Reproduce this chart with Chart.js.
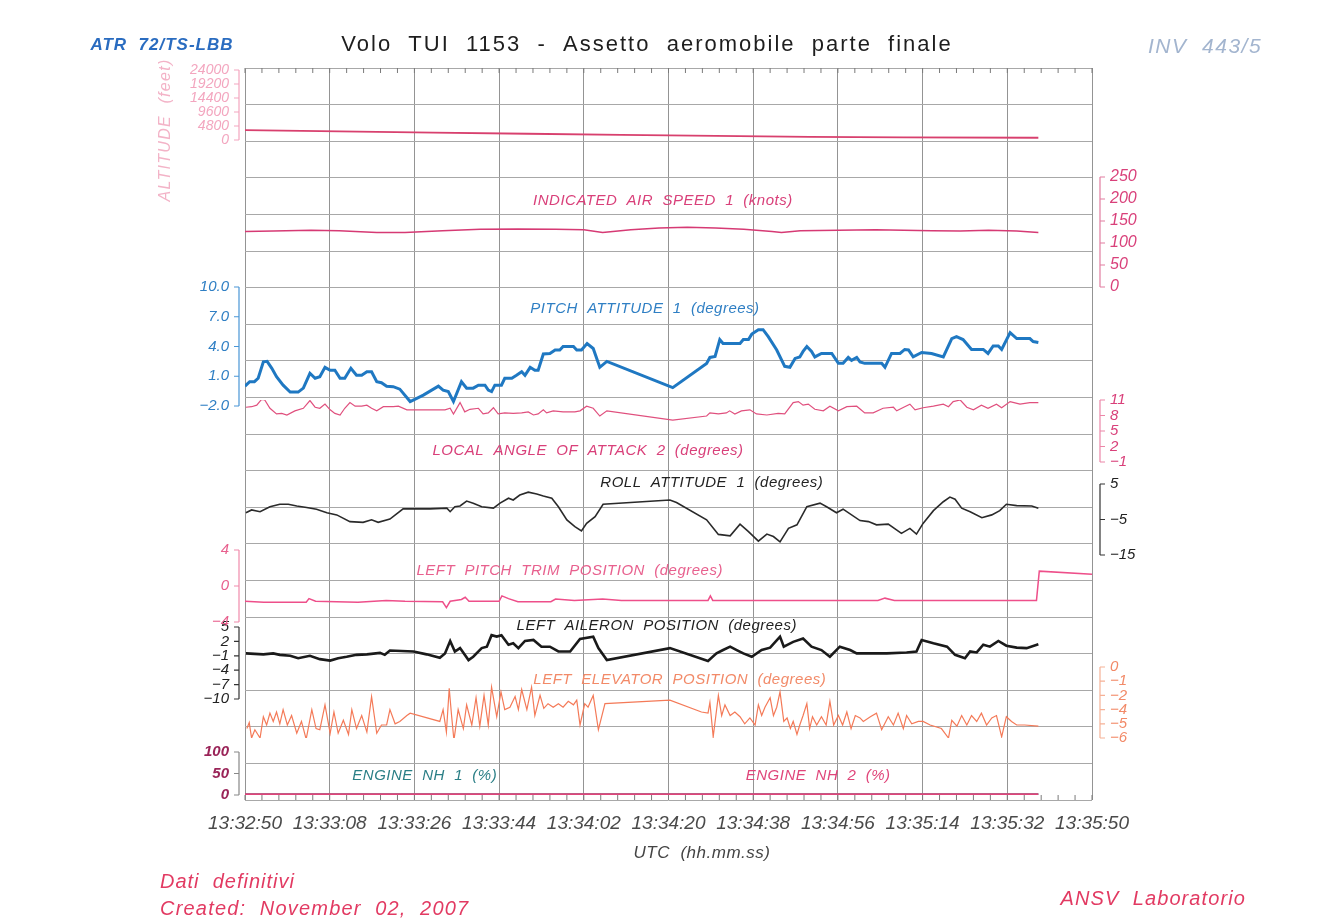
<!DOCTYPE html>
<html>
<head>
<meta charset="utf-8">
<script src="https://cdn.jsdelivr.net/npm/chart.js@4.4.1/dist/chart.umd.min.js"></script>
<style>
  html, body { margin: 0; padding: 0; background: #fff; }
  #wrap { width: 1322px; height: 919px; }
</style>
</head>
<body>
<div id="wrap"><canvas id="chart" width="1322" height="919"></canvas></div>
<script>
// time is in seconds after 13:32:50 UTC
const timeTicks = [0, 18, 36, 54, 72, 90, 108, 126, 144, 162, 180];
const timeLabels = ["13:32:50", "13:33:08", "13:33:26", "13:33:44", "13:34:02", "13:34:20",
  "13:34:38", "13:34:56", "13:35:14", "13:35:32", "13:35:50"];

const altTicks = [0, 4800, 9600, 14400, 19200, 24000];
const iasTicks = [0, 50, 100, 150, 200, 250];
const pitchTicks = [-2, 1, 4, 7, 10];
const aoaTicks = [-1, 2, 5, 8, 11];
const rollTicks = [-15, -5, 5];
const trimTicks = [-4, 0, 4];
const aileronTicks = [-10, -7, -4, -1, 2, 5];
const elevatorTicks = [-6, -4.8, -3.6, -2.4, -1.2, 0];
const engineTicks = [0, 50, 100];

// [seconds, value]
const altitudeFt = [[0, 3400], [20, 2950], [40, 2550], [60, 2150], [80, 1750], [100, 1400],
  [120, 1100], [140, 900], [168.6, 780]];

const airspeedKt = [[0, 126], [6, 127], [14, 129], [20, 128], [28, 124], [34, 124], [42, 128],
  [50, 131], [58, 132], [66, 131], [72, 130], [76, 124], [82, 130], [88, 134], [94, 136],
  [100, 134], [106, 131], [112, 126], [114, 124], [118, 128], [126, 129], [134, 130],
  [140, 129], [146, 128], [152, 127], [158, 129], [164, 127], [168.6, 124]];

const pitchDeg = [[0, 0.0], [1, 0.45], [2, 0.45], [2.8, 0.8], [3.9, 2.45], [4.7, 2.5], [5.7, 1.8],
  [6.7, 0.95], [8.1, 0.1], [9.6, -0.6], [11.3, -0.6], [12.4, -0.2], [13.8, 1.3], [14.9, 0.8],
  [15.9, 0.95], [17, 1.9], [18.1, 1.6], [19.1, 1.6], [20.2, 0.8], [21.2, 0.8], [22.5, 1.8],
  [23.7, 1.1], [24.8, 1.1], [25.9, 1.45], [26.9, 1.45], [28, 0.45], [29, 0.35], [30.1, 0.0],
  [31.5, -0.05], [32.9, -0.3], [35.1, -1.55], [37.9, -0.9], [41.1, 0.0], [42.1, -0.4],
  [43.2, -0.55], [44.3, -1.55], [46, 0.45], [47.1, -0.2], [48.5, -0.2], [49.6, 0.1], [51, 0.1],
  [51.7, -0.4], [52.4, -0.55], [53.1, 0.1], [54.5, 0.1], [55.2, 0.8], [56.7, 0.8], [57.7, 1.1],
  [58.8, 1.45], [59.5, 1.1], [60.6, 1.9], [61.6, 1.6], [62.3, 1.6], [63.4, 3.25], [64.8, 3.3],
  [65.9, 3.65], [66.9, 3.65], [67.6, 4.0], [69.8, 4.0], [70.5, 3.65], [71.5, 3.65], [72.7, 4.3],
  [74, 3.8], [75.4, 1.9], [76.9, 2.5], [90.9, -0.15], [98.1, 2.3], [98.8, 2.9], [99.9, 3.0],
  [100.9, 4.7], [101.6, 4.3], [105.2, 4.3], [105.9, 4.7], [107, 4.7], [107.7, 5.25], [109.1, 5.7],
  [110.1, 5.7], [111.2, 5.0], [113, 3.65], [114.7, 2.0], [115.8, 1.9], [116.9, 2.8], [117.9, 2.95],
  [118.6, 3.5], [119.4, 4.0], [120.4, 3.5], [121.1, 2.95], [122.5, 3.3], [124.7, 3.3], [126.1, 2.3],
  [127.1, 2.3], [128.2, 2.9], [128.9, 2.6], [130, 2.9], [130.7, 2.45], [131.7, 2.3], [135.3, 2.3],
  [136, 1.9], [137.4, 3.3], [139.2, 3.3], [140.2, 3.7], [141, 3.65], [142, 2.95], [143.8, 3.4],
  [145.9, 3.3], [148.4, 2.95], [150.2, 4.8], [151.2, 5.0], [152.6, 4.7], [154.4, 3.7], [156.9, 3.7],
  [157.9, 3.3], [159, 4.05], [160.1, 4.05], [160.8, 3.7], [162.6, 5.4], [164, 4.8], [166.8, 4.8],
  [167.5, 4.5], [168.6, 4.4]];

const aoaDeg = [[0.2, 9.6], [1.4, 9.7], [2.5, 10.0], [3.5, 11.1], [4.2, 11.0], [5.3, 9.4], [6.7, 8.3],
  [7.8, 8.4], [8.9, 8.1], [10.6, 8.9], [12.4, 9.4], [13.8, 10.9], [14.9, 9.6], [15.9, 9.4], [17, 10.2],
  [18.1, 9.1], [19.1, 8.4], [20.2, 8.1], [21.2, 9.4], [22.3, 10.5], [23.4, 9.8], [24.8, 9.8],
  [25.9, 10.0], [26.9, 9.4], [28, 8.9], [29.4, 9.7], [31.5, 9.7], [32.6, 9.8], [34.4, 9.1],
  [37.9, 9.1], [42.5, 9.1], [43.6, 9.4], [44.3, 8.3], [45.7, 10.5], [46.7, 8.7], [47.8, 9.2],
  [49.6, 9.4], [50.6, 8.3], [51.7, 8.5], [52.8, 9.5], [53.8, 8.3], [55.2, 8.5], [57, 8.4],
  [58.8, 8.5], [60.2, 8.7], [61.3, 8.1], [62.3, 8.3], [63.4, 9.1], [64.1, 8.5], [65.5, 8.9],
  [67.6, 8.7], [70.1, 8.7], [71.2, 8.9], [72.6, 9.8], [74, 9.4], [75.4, 7.9], [76.9, 8.9],
  [90.9, 7.1], [98.1, 7.9], [98.8, 8.5], [100.6, 8.3], [102.3, 8.5], [103, 8.9], [104.1, 8.3],
  [105.5, 8.9], [107.3, 9.1], [108.7, 8.3], [110.9, 8.1], [113.3, 8.4], [114.7, 8.3], [116.5, 10.5],
  [117.6, 10.7], [118.6, 10.0], [119.7, 10.2], [121.1, 9.2], [122.9, 8.9], [124.3, 9.8], [126.1, 8.9],
  [127.9, 9.7], [130, 9.8], [131.7, 8.5], [133.5, 8.5], [135.6, 9.4], [137.8, 9.6], [138.5, 8.9],
  [140.2, 9.7], [141.3, 10.2], [142.4, 9.1], [144.1, 9.5], [146.3, 9.8], [148.4, 10.2], [149.5, 9.7],
  [150.5, 10.7], [152, 11.0], [153.4, 9.6], [154.8, 9.1], [156.5, 10.0], [157.9, 9.4], [159.7, 10.2],
  [160.8, 9.5], [162.6, 10.7], [164.7, 10.2], [166.8, 10.5], [168.6, 10.5]];

const rollDeg = [[0.2, -3.1], [1.4, -2.3], [3.2, -2.8], [5.3, -1.4], [7.4, -0.7], [9.2, -0.7],
  [11, -1.2], [13.1, -1.6], [15.2, -2.1], [17.4, -3.1], [19.5, -3.7], [22.3, -5.6], [25.1, -5.8],
  [26.9, -5.1], [28.3, -5.8], [30.8, -4.9], [33.6, -2.0], [39.3, -2.0], [42.9, -1.8], [43.6, -2.8],
  [44.6, -1.4], [45.7, -1.2], [47.1, 0.2], [48.5, -0.4], [50.3, -1.4], [52.8, -1.8], [54.2, -0.4],
  [56, 1.0], [57, 0.5], [58.4, 1.9], [60.2, 2.7], [62, 2.2], [63.4, 1.6], [65.2, 1.0], [66.6, -1.4],
  [68.4, -5.1], [70.1, -7.0], [71.5, -8.2], [72.6, -6.1], [74.4, -4.2], [76.1, -0.7], [90.3, 0.5],
  [91.7, -0.2], [98.1, -5.1], [100.6, -9.2], [103.1, -9.6], [105.2, -6.3], [107, -8.4],
  [109.1, -11.1], [110.9, -9.1], [112.3, -9.8], [113.7, -11.3], [115.5, -7.5], [117.3, -6.5],
  [119.4, -1.4], [122.2, -0.4], [123.6, -1.4], [125.7, -3.1], [127.1, -2.1], [130.7, -5.3],
  [132.5, -5.6], [134.2, -6.5], [136.7, -6.3], [139.5, -8.9], [141.3, -7.5], [142.7, -9.1],
  [144.1, -6.1], [146.3, -2.5], [148.4, 0.0], [149.8, 1.3], [150.9, 0.7], [152.3, -1.8],
  [154.1, -2.8], [156.6, -4.5], [158.7, -3.7], [160.4, -2.5], [161.8, -0.7], [164, -1.1],
  [167.2, -1.2], [168.6, -1.8]];

const trimDeg = [[0, -1.7], [4, -1.8], [13, -1.8], [13.6, -1.4], [15, -1.7], [24, -1.8], [30, -1.6],
  [34, -1.7], [42, -1.75], [42.8, -2.4], [43.6, -1.7], [46, -1.5], [46.8, -1.25], [47.6, -1.7],
  [54, -1.7], [54.6, -1.1], [56, -1.4], [58, -1.75], [65, -1.75], [66, -1.45], [70, -1.6],
  [76, -1.45], [80, -1.6], [98.4, -1.6], [98.9, -1.1], [99.4, -1.6], [134.5, -1.6], [136, -1.35],
  [138, -1.6], [168.2, -1.6], [168.8, 1.65], [180, 1.3]];

const aileronDeg = [[0.2, -0.5], [3.9, -0.7], [6, -0.5], [7.4, -0.8], [9.6, -1.0], [11.3, -1.5],
  [13.8, -1.0], [15.9, -1.7], [18.1, -2.0], [19.8, -1.5], [21.6, -1.2], [23.7, -0.8], [25.9, -0.7],
  [28.7, -0.4], [29.7, -0.8], [30.8, 0.1], [35.8, -0.1], [38.6, -0.7], [41.4, -1.4], [42.5, -0.5],
  [43.6, 2.1], [44.6, -0.1], [45.7, 0.6], [47.5, -1.9], [48.5, -1.2], [50.3, 0.6], [51.4, 0.9],
  [52.4, 3.3], [53.5, 3.0], [54.5, 3.3], [56, 1.3], [57, 1.6], [58.1, 0.6], [59.5, 2.1], [61.3, 2.3],
  [63, 0.9], [64.8, 0.9], [66.6, -0.1], [69.1, -0.1], [71.2, 2.5], [74, 3.0], [75.1, 0.6],
  [76.9, -1.9], [90.3, 0.6], [98.4, -2.1], [100.2, -0.5], [101.6, 0.2], [103.1, 0.9], [104.5, 0.2],
  [105.9, -0.5], [107.7, -1.2], [109.8, 0.2], [111.6, 0.7], [113.7, 3.0], [114.5, 0.9], [116.5, 1.9],
  [118.6, 2.6], [120.4, 0.9], [122.5, 0.2], [124.3, -1.2], [126.4, 0.9], [128.6, 0.2], [130, -0.5],
  [136.4, -0.5], [140.6, -0.3], [142.7, -0.1], [143.8, 2.3], [146.3, 1.6], [149.2, 0.9],
  [150.9, -0.8], [153, -1.5], [154.1, -0.1], [155.5, -0.3], [156.9, 1.3], [158.3, 0.9], [160.1, 2.1],
  [161.8, 1.1], [164, 0.7], [166.1, 0.6], [168.6, 1.4]];

const elevatorDeg = [[0.4, -5.2], [0.9, -4.7], [1.4, -6.0], [2.1, -5.3], [3.2, -6.0], [3.9, -4.2],
  [4.6, -4.9], [5.3, -3.9], [6, -4.6], [6.7, -3.8], [7.4, -4.8], [8.1, -3.6], [9, -4.9], [9.9, -4.1],
  [11, -5.6], [12, -4.6], [13, -6.1], [14.2, -3.6], [15.1, -5.2], [15.9, -5.3], [17, -3.2],
  [18.1, -5.6], [18.9, -3.8], [19.8, -5.6], [20.9, -4.5], [22, -5.7], [22.7, -3.6], [23.7, -5.2],
  [24.8, -4.1], [25.9, -5.5], [26.9, -2.5], [28, -5.6], [29, -4.9], [30.1, -4.9], [30.8, -3.6],
  [31.9, -4.8], [32.9, -4.6], [34.4, -4.1], [35.1, -3.9], [41.4, -4.6], [42.1, -3.6], [42.8, -5.5],
  [43.4, -1.8], [43.9, -4.1], [44.4, -6.2], [45.3, -3.6], [46.4, -5.2], [47.1, -3.2], [48.2, -4.9],
  [49.1, -2.6], [49.9, -5.0], [50.8, -2.4], [51.7, -4.9], [52.4, -1.7], [53.5, -4.2], [54.4, -2.1],
  [55.2, -3.6], [56.3, -3.4], [57.4, -2.5], [58.1, -3.6], [58.8, -1.9], [59.9, -3.6], [60.9, -1.7],
  [61.6, -4.1], [62.7, -2.4], [63.5, -3.5], [64.4, -3.1], [65.5, -3.4], [66.6, -3.1], [67.6, -3.4],
  [68.7, -2.9], [69.8, -3.2], [70.5, -2.8], [71.2, -4.9], [72.2, -3.1], [72.9, -3.4], [74, -2.4],
  [75.1, -5.3], [76.5, -3.1], [90.3, -2.8], [97, -3.8], [98.4, -3.9], [98.8, -3.0], [99.5, -5.9],
  [100.6, -2.4], [101.3, -4.1], [102, -3.2], [103.1, -4.1], [104.1, -3.8], [105.2, -4.2],
  [106.2, -4.8], [107.3, -4.3], [108.4, -4.9], [109.1, -3.2], [109.8, -4.1], [110.5, -3.4],
  [111.6, -2.6], [112.3, -4.1], [113, -3.4], [113.7, -2.1], [114.5, -4.6], [115.2, -4.3],
  [115.9, -5.2], [116.5, -4.6], [117.3, -5.7], [117.9, -4.9], [118.6, -4.1], [119.4, -3.1],
  [120, -5.2], [120.6, -4.2], [121.5, -4.9], [122.5, -4.2], [123.5, -4.9], [124.3, -2.9],
  [125.1, -4.9], [126.1, -4.1], [127, -4.9], [127.9, -3.8], [128.8, -5.2], [129.7, -4.1],
  [130.7, -4.3], [131.4, -4.6], [132.9, -4.2], [134.2, -3.9], [135.3, -5.3], [136.7, -4.2],
  [137.8, -4.9], [138.8, -3.9], [139.9, -5.2], [140.6, -4.1], [141.7, -4.8], [143.1, -4.6],
  [144.1, -4.6], [145.6, -4.9], [148, -5.2], [149.5, -6.0], [150.2, -4.5], [151.3, -5.0],
  [152.3, -4.1], [153.4, -4.9], [154.4, -4.1], [155.5, -4.6], [156.5, -3.9], [157.6, -4.9],
  [158.7, -4.3], [159.7, -4.1], [160.8, -5.9], [161.8, -4.2], [162.9, -4.6], [164, -4.9],
  [165.7, -4.9], [168.6, -5.0]];

const engineNh1 = [[0, 1.5], [60, 1.5], [120, 1.5], [168.6, 1.5]];
const engineNh2 = [[0, 1.5], [60, 1.5], [120, 1.5], [168.6, 1.5]];

const FONT = "'Liberation Sans', Arial, sans-serif";
Chart.defaults.font.family = FONT;

const minus = (s) => String(s).replace("-", "\u2212");

function filler(pos, weight) {
  return {
    type: "linear", position: pos, stack: "band", stackWeight: weight, min: 0, max: 1,
    afterFit: (s) => { s.width = pos === "left" ? 245 : 230; },
    ticks: { display: false },
    grid: { display: false, drawTicks: false },
    border: { display: false },
  };
}

function band(pos, weight, min, max, tickVals, color, font, fmt) {
  return {
    type: "linear", position: pos, stack: "band", stackWeight: weight, min: min, max: max,
    afterBuildTicks: (s) => { s.ticks = tickVals.map((v) => ({ value: v })); },
    afterFit: (s) => { s.width = pos === "left" ? 245 : 230; },
    ticks: {
      autoSkip: false, color: color, font: font, padding: pos === "left" ? 16 : 18,
      callback: fmt || ((v) => minus(v)),
    },
    grid: { display: false, drawTicks: false },
    border: { display: false },
  };
}

const it = (size, weight) => ({ family: FONT, size: size, style: "italic", weight: weight || "normal" });

const scales = {
  x: {
    type: "linear", position: "bottom", min: 0, max: 180,
    afterBuildTicks: (s) => { s.ticks = timeTicks.map((v) => ({ value: v })); },
    afterFit: (s) => { s.height = 70; },
    ticks: {
      autoSkip: false, maxRotation: 0, padding: 12, color: "#4a4a4a", font: it(19),
      callback: (v, i) => timeLabels[i],
    },
    grid: { color: "#949494", lineWidth: 1, drawTicks: false },
    border: { display: false },
  },
  yGrid: {
    type: "linear", position: "left", min: 0, max: 20,
    afterFit: (s) => { s.width = 0; },
    ticks: { display: false, stepSize: 1 },
    grid: { color: "#a8a8a8", lineWidth: 1, drawTicks: false },
    border: { display: false },
  },
  // left stack, bottom to top
  fL5: filler("left", 5),
  eng: band("left", 43, 0, 100, engineTicks, "#9a2458", it(15, "bold")),
  fL4: filler("left", 53),
  ail: band("left", 72, -10, 5, aileronTicks, "#222", it(15)),
  fL3: filler("left", 5),
  trim: band("left", 72, -4, 4, trimTicks, "#e8608e", it(15)),
  fL2: filler("left", 144),
  pitch: band("left", 119, -2, 10, pitchTicks, "#2f7fc4", it(15), (v) => minus(v.toFixed(1))),
  fL1: filler("left", 147),
  alt: band("left", 70, 0, 24000, altTicks, "#f3a6bf", it(14)),
  fL0: filler("left", 2),
  // right stack, top to bottom
  fR0: filler("right", 109),
  ias: band("right", 110, 0, 250, iasTicks, "#d9407a", it(16)),
  fR1: filler("right", 113),
  aoa: band("right", 62, -1, 11, aoaTicks, "#d9407a", it(15)),
  fR2: filler("right", 22),
  roll: band("right", 71, -15, 5, rollTicks, "#222", it(15)),
  fR3: filler("right", 112),
  elev: band("right", 71, -6, 0, elevatorTicks, "#f28a68", it(15), (v) => minus(Math.round(v))),
  fR4: filler("right", 62),
};

function series(label, points, axis, color, width) {
  return {
    label: label,
    data: points.map((p) => ({ x: p[0], y: p[1] })),
    xAxisID: "x", yAxisID: axis,
    borderColor: color, backgroundColor: color, borderWidth: width,
    pointRadius: 0, fill: false, tension: 0,
  };
}

const brackets = [
  ["alt", "#f3a6bf"], ["pitch", "#4a96d6"], ["trim", "#f08aab"], ["ail", "#333"], ["eng", "#888"],
  ["ias", "#e27da0"], ["aoa", "#ec86a8"], ["roll", "#333"], ["elev", "#f6b196"],
];

const traceLabels = [
  ["INDICATED  AIR  SPEED  1  (knots)", "ias", 88.8, 195, "#d9407a"],
  ["PITCH  ATTITUDE  1  (degrees)", "pitch", 85, 7.8, "#2f7fc4"],
  ["LOCAL  ANGLE  OF  ATTACK  2  (degrees)", "aoa", 72.9, 1.1, "#d9407a"],
  ["ROLL  ATTITUDE  1  (degrees)", "roll", 99.2, 5.3, "#222"],
  ["LEFT  PITCH  TRIM  POSITION  (degrees)", "trim", 69, 1.7, "#e8608e"],
  ["LEFT  AILERON  POSITION  (degrees)", "ail", 87.5, 5.2, "#222"],
  ["LEFT  ELEVATOR  POSITION  (degrees)", "elev", 92.4, -1.1, "#f28a68"],
  ["ENGINE  NH  1  (%)", "eng", 38.2, 45, "#2b7f86"],
  ["ENGINE  NH  2  (%)", "eng", 121.8, 45, "#e0457a"],
];

function text(ctx, str, x, y, font, color, align, spacing) {
  ctx.font = font;
  ctx.fillStyle = color;
  ctx.textAlign = align || "center";
  ctx.letterSpacing = (spacing || 0) + "px";
  ctx.fillText(str, x, y);
  ctx.letterSpacing = "0px";
}

const decor = {
  id: "decor",
  afterDraw(chart) {
    const ctx = chart.ctx;
    const area = chart.chartArea;
    const xs = chart.scales.x;
    ctx.save();

    // axis brackets
    brackets.forEach(([id, color]) => {
      const s = chart.scales[id];
      const left = s.position === "left";
      const bx = left ? area.left - 6 : area.right + 8;
      const dir = left ? -1 : 1;
      ctx.strokeStyle = color;
      ctx.lineWidth = 1.2;
      ctx.beginPath();
      ctx.moveTo(bx, s.getPixelForValue(s.max));
      ctx.lineTo(bx, s.getPixelForValue(s.min));
      s.ticks.forEach((t) => {
        const y = s.getPixelForValue(t.value);
        ctx.moveTo(bx, y);
        ctx.lineTo(bx + dir * 5, y);
      });
      ctx.stroke();
    });

    // minor time ticks on the top and bottom frame
    ctx.strokeStyle = "#7a7a7a";
    ctx.lineWidth = 1;
    ctx.beginPath();
    for (let t = 0; t <= 180; t += 3.6) {
      const x = xs.getPixelForValue(t);
      ctx.moveTo(x, area.top); ctx.lineTo(x, area.top + 5);
      ctx.moveTo(x, area.bottom); ctx.lineTo(x, area.bottom - 5);
    }
    ctx.stroke();

    // trace labels
    ctx.textBaseline = "middle";
    traceLabels.forEach(([str, id, t, v, color]) => {
      text(ctx, str, xs.getPixelForValue(t), chart.scales[id].getPixelForValue(v),
        "italic 15px " + FONT, color, "center", 0.5);
    });

    // header
    text(ctx, "ATR  72/TS-LBB", 162, 45, "italic bold 17px " + FONT, "#2a6cc0", "center", 1);
    text(ctx, "Volo  TUI  1153  -  Assetto  aeromobile  parte  finale", 647, 45,
      "22px " + FONT, "#1e1e1e", "center", 2);
    text(ctx, "INV  443/5", 1205, 47, "italic 21px " + FONT, "#a3b5cf", "center", 1.5);

    // altitude axis title
    ctx.save();
    ctx.translate(166, 130);
    ctx.rotate(-Math.PI / 2);
    text(ctx, "ALTITUDE  (feet)", 0, 0, "italic 16px " + FONT, "#f3b3c7", "center", 1.3);
    ctx.restore();

    // x axis title and footer
    text(ctx, "UTC  (hh.mm.ss)", 702, 853, "italic 17px " + FONT, "#444", "center", 0.5);
    text(ctx, "Dati  definitivi", 160, 882, "italic 20px " + FONT, "#e23a62", "left", 1);
    text(ctx, "Created:  November  02,  2007", 160, 909, "italic 20px " + FONT, "#e23a62", "left", 1.2);
    text(ctx, "ANSV  Laboratorio", 1246, 899, "italic 20px " + FONT, "#e23a62", "right", 1.1);
    ctx.restore();
  },
};

const chart = new Chart(document.getElementById("chart").getContext("2d"), {
  type: "line",
  data: {
    datasets: [
      series("Pitch attitude 1", pitchDeg, "pitch", "#1f78c2", 3),
      series("Left aileron position", aileronDeg, "ail", "#1a1a1a", 2.6),
      series("Roll attitude 1", rollDeg, "roll", "#2a2a2a", 1.6),
      series("Altitude", altitudeFt, "alt", "#d8406e", 1.8),
      series("Indicated air speed 1", airspeedKt, "ias", "#d63a74", 1.5),
      series("Local angle of attack 2", aoaDeg, "aoa", "#e0507e", 1.2),
      series("Left pitch trim position", trimDeg, "trim", "#ee4f8a", 1.5),
      series("Left elevator position", elevatorDeg, "elev", "#f47a58", 1.2),
      series("Engine NH 2", engineNh2, "eng", "#e0457a", 2),
      series("Engine NH 1", engineNh1, "eng", "#2b7f86", 2),
    ],
  },
  options: {
    responsive: false,
    animation: false,
    devicePixelRatio: 1,
    layout: { padding: { top: 68, bottom: 49, left: 0, right: 0 } },
    plugins: { legend: { display: false }, tooltip: { enabled: false }, title: { display: false } },
    scales: scales,
  },
  plugins: [decor],
});
</script>
</body>
</html>
